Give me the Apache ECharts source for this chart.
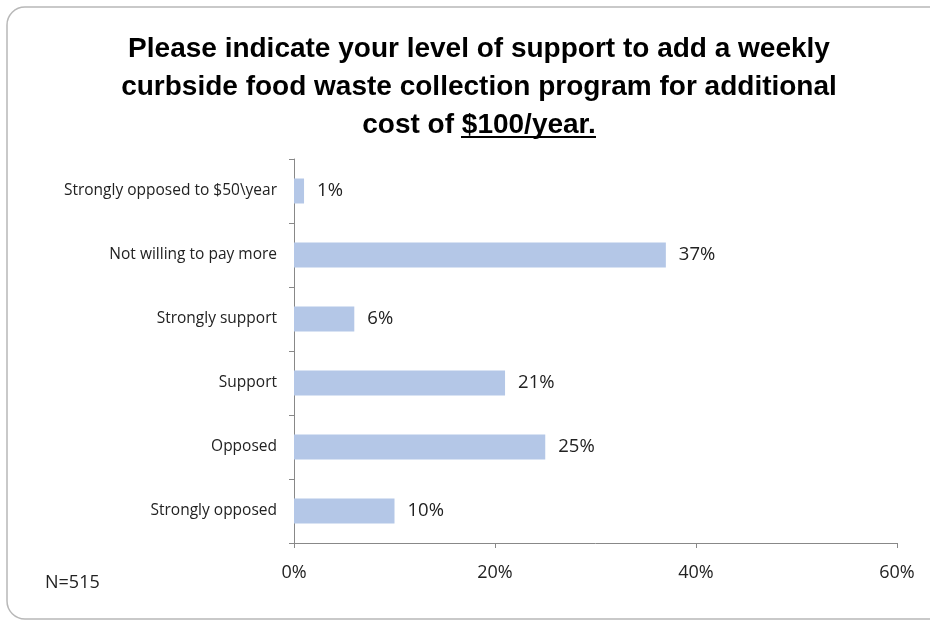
<!DOCTYPE html>
<html><head><meta charset="utf-8">
<script src="https://cdn.jsdelivr.net/npm/echarts@6/dist/echarts.min.js"></script>
<style>html,body{margin:0;padding:0;background:#fff}#c{width:930px;height:625px}</style>
</head><body><div id="c"></div>
<script>
var categories = ["Strongly opposed to $50\\year", "Not willing to pay more", "Strongly support", "Support", "Opposed", "Strongly opposed"];
var values = [1, 37, 6, 21, 25, 10];
var xTicks = [0, 20, 40, 60];

var chart = echarts.init(document.getElementById('c'));
var FONT = '"Liberation Sans", sans-serif';
chart.setOption({
  backgroundColor: '#fff',
  animation: false,
  title: {
    text: 'Please indicate your level of support to add a weekly\ncurbside food waste collection program for additional\ncost of {u|$100/year.}',
    left: 474, textAlign: 'center', top: 25,
    textStyle: {
      fontFamily: FONT, fontSize: 28, fontWeight: 'bold', color: '#000', lineHeight: 38,
      rich: { u: { fontFamily: FONT, fontSize: 28, fontWeight: 'bold', color: '#000', lineHeight: 38 } }
    }
  },
  graphic: [
    { type: 'rect', shape: { x: 7, y: 7, width: 940, height: 612, r: 18 }, style: { fill: 'none', stroke: '#b8b8b8', lineWidth: 1.5 }, silent: true },
    { type: 'line', shape: { x1: 461, y1: 137, x2: 596, y2: 137 }, style: { stroke: '#000', lineWidth: 2 } },
    { type: 'text', left: 45, top: 574, style: { text: 'N=515', fontFamily: '"Open Sans", sans-serif', fontSize: 18, fill: '#222' } }
  ],
  grid: { left: 294, right: 33, top: 159, bottom: 82 },
  xAxis: {
    type: 'value', min: 0, max: 60, interval: 20,
    axisLine: { show: true, lineStyle: { color: '#888' } },
    axisTick: { show: true, length: 5, lineStyle: { color: '#888' } },
    splitLine: { show: false },
    axisLabel: { formatter: function (v) { return v + '%'; }, fontFamily: '"Open Sans", sans-serif', fontSize: 18, color: '#222', margin: 21 }
  },
  yAxis: {
    type: 'category', data: categories, inverse: true,
    axisLine: { show: true, lineStyle: { color: '#888' } },
    axisTick: { show: true, length: 5, lineStyle: { color: '#888' } },
    axisLabel: { fontFamily: '"Open Sans", sans-serif', fontSize: 15.5, color: '#222', margin: 17 }
  },
  series: [{
    type: 'bar', data: values, barWidth: 25,
    itemStyle: { color: '#b4c7e7' },
    label: { show: true, position: 'right', distance: 13, formatter: '{c}%', fontFamily: '"Open Sans", sans-serif', fontSize: 18.5, color: '#222' }
  }]
});
</script></body></html>
